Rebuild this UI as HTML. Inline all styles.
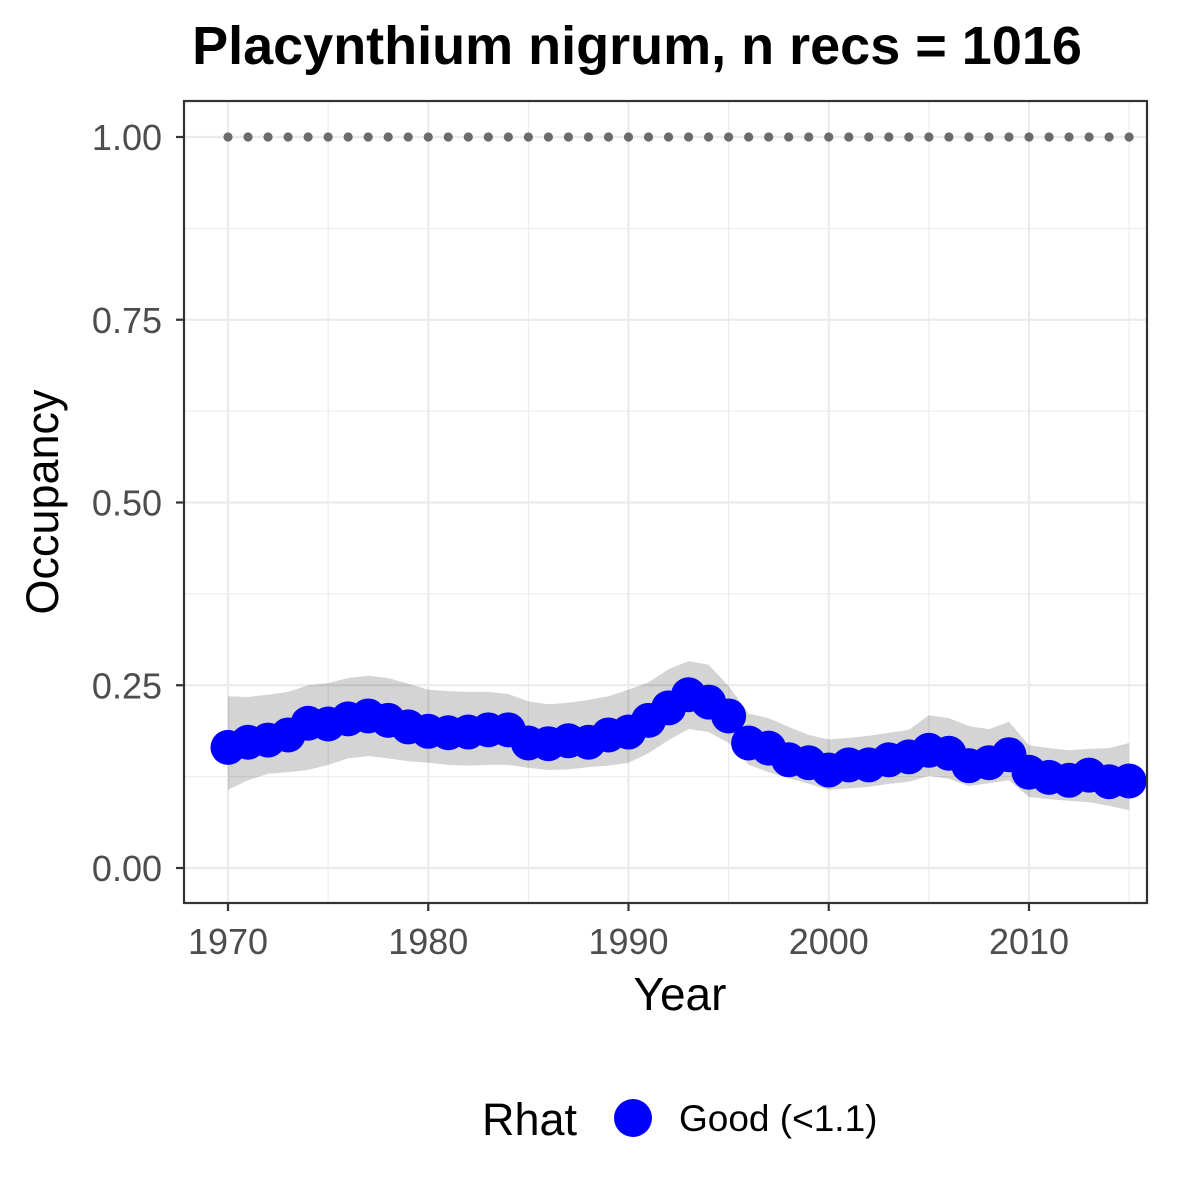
<!DOCTYPE html>
<html><head><meta charset="utf-8"><style>
html,body{margin:0;padding:0;background:#fff;}
svg{display:block;font-family:"Liberation Sans",Arial,sans-serif;}
</style></head><body>
<svg id="chart" width="1200" height="1200" viewBox="0 0 1200 1200">
<rect width="1200" height="1200" fill="#fff"/>
<text x="637" y="64" text-anchor="middle" font-size="54" font-weight="bold" fill="#000">Placynthium nigrum, n recs = 1016</text>
<g id="grid"></g>
<g id="band"></g>
<g id="dots"></g>
<g id="points"></g>
<rect x="184" y="101" width="963" height="802" fill="none" stroke="#333" stroke-width="2.2"/>
<g id="axes"></g>
<text x="680" y="1010" text-anchor="middle" font-size="46" fill="#000">Year</text>
<text transform="translate(58,502) rotate(-90)" text-anchor="middle" font-size="45" fill="#000">Occupancy</text>
<g>
<text x="482" y="1135" font-size="45" fill="#000">Rhat</text>
<circle cx="633" cy="1118" r="19" fill="#0000ff"/>
<text x="679" y="1131" font-size="37" fill="#000">Good (&lt;1.1)</text>
</g>
</svg>
<script>
const years=[1970,1971,1972,1973,1974,1975,1976,1977,1978,1979,1980,1981,1982,1983,1984,1985,1986,1987,1988,1989,1990,1991,1992,1993,1994,1995,1996,1997,1998,1999,2000,2001,2002,2003,2004,2005,2006,2007,2008,2009,2010,2011,2012,2013,2014,2015];
const occupancy=[.165,.172,.175,.182,.198,.197,.204,.208,.202,.193,.187,.185,.186,.189,.189,.171,.170,.174,.172,.182,.186,.202,.219,.237,.227,.208,.171,.164,.148,.144,.134,.141,.141,.148,.152,.161,.157,.140,.144,.155,.131,.124,.120,.127,.118,.119];
const upper=[.235,.234,.237,.241,.250,.253,.260,.263,.260,.252,.244,.242,.241,.241,.238,.228,.224,.226,.230,.235,.244,.254,.272,.283,.278,.249,.211,.205,.193,.182,.176,.178,.181,.185,.189,.209,.205,.194,.190,.200,.168,.164,.161,.163,.164,.171];
const lower=[.107,.120,.129,.131,.134,.141,.150,.153,.150,.146,.144,.141,.140,.141,.141,.137,.134,.135,.138,.140,.144,.157,.175,.190,.186,.171,.141,.131,.123,.115,.107,.109,.111,.115,.118,.126,.122,.112,.116,.120,.097,.094,.092,.090,.085,.079];
const refLine=1.0;
const xTicks=[1970,1980,1990,2000,2010];
const yTicks=[0,0.25,0.5,0.75,1.0];
const yTickLabels=["0.00","0.25","0.50","0.75","1.00"];
const X=v=>228+(v-1970)*(1029-228)/40;
const Y=v=>868-v*731;
const NS="http://www.w3.org/2000/svg";
function mk(tag,attrs,parent){const e=document.createElementNS(NS,tag);for(const k in attrs)e.setAttribute(k,attrs[k]);parent.appendChild(e);return e;}
const grid=document.getElementById('grid');
for(let i=0;i<yTicks.length-1;i++){const m=(yTicks[i]+yTicks[i+1])/2;
const l=mk('line',{x1:184,x2:1147,y1:Y(m),y2:Y(m),stroke:'#ebebeb','stroke-width':1.1},grid);
}
for(let i=0;i<xTicks.length;i++){const m=xTicks[i]+5;
const l=mk('line',{y1:101,y2:903,x1:X(m),x2:X(m),stroke:'#ebebeb','stroke-width':1.1},grid);
}
yTicks.forEach(t=>{const l=mk('line',{x1:184,x2:1147,y1:Y(t),y2:Y(t),stroke:'#ebebeb','stroke-width':2.2},grid);
});
xTicks.forEach(t=>{const l=mk('line',{y1:101,y2:903,x1:X(t),x2:X(t),stroke:'#ebebeb','stroke-width':2.2},grid);
});
let d='';years.forEach((y,i)=>{d+=(i?'L':'M')+X(y)+','+Y(upper[i]);});
for(let i=years.length-1;i>=0;i--)d+='L'+X(years[i])+','+Y(lower[i]);
const band=mk('path',{d:d+'Z',fill:'#000','fill-opacity':0.17},document.getElementById('band'));

const dots=document.getElementById('dots');
years.forEach(y=>{const c=mk('circle',{cx:X(y),cy:Y(refLine),r:4.6,fill:'#6b6b6b'},dots);
});
const pts=document.getElementById('points');
years.forEach((y,i)=>{const c=mk('circle',{cx:X(y),cy:Y(occupancy[i]),r:17.5,fill:'#0000ff'},pts);
});
const ax=document.getElementById('axes');
yTicks.forEach((t,i)=>{const l=mk('line',{x1:176,x2:184,y1:Y(t),y2:Y(t),stroke:'#333','stroke-width':2.2},ax);

const tx=mk('text',{x:162,y:Y(t)+13,'text-anchor':'end','font-size':36,fill:'#4d4d4d'},ax);tx.textContent=yTickLabels[i];
});
xTicks.forEach(t=>{const l=mk('line',{x1:X(t),x2:X(t),y1:903,y2:911,stroke:'#333','stroke-width':2.2},ax);

const tx=mk('text',{x:X(t),y:954,'text-anchor':'middle','font-size':36,fill:'#4d4d4d'},ax);tx.textContent=t;
});
</script>
</body></html>
